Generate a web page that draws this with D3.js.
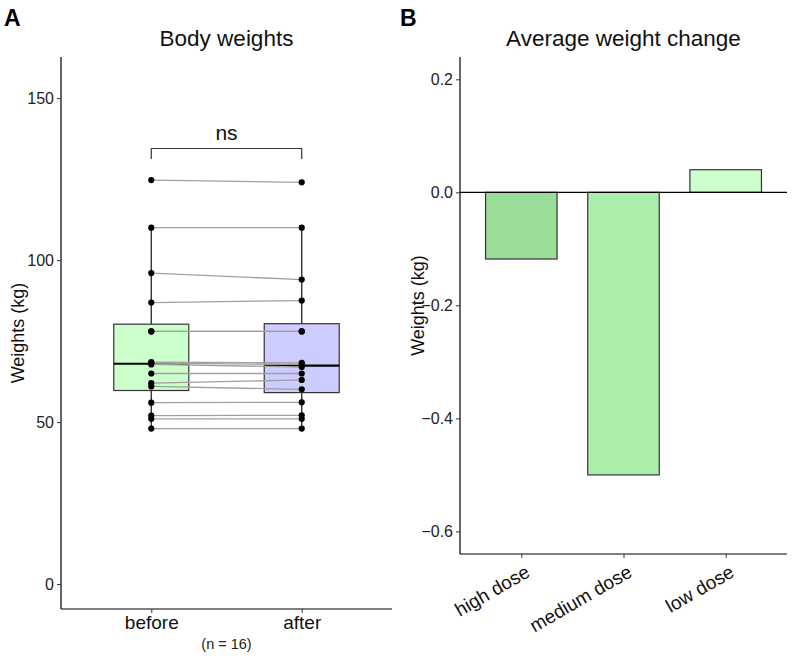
<!DOCTYPE html>
<html>
<head>
<meta charset="utf-8">
<script src="https://cdn.jsdelivr.net/npm/d3@7"></script>
<style>
  body { margin: 0; background: #fff; }
  text { font-family: "Liberation Sans", Arial, sans-serif; }
</style>
</head>
<body>
<div id="chart"></div>
<script>
// ---- data ----
const groups = ["before", "after"];
const beforeW = [124.7, 110, 96, 86.9, 78, 78, 68.5, 68.2, 67.8, 65, 62, 61, 56, 52, 51, 48];
const afterW  = [124.0, 110, 94, 87.5, 78, 78, 68.3, 67.8, 67.0, 65, 63, 60.1, 56.1, 52.1, 51, 48];
const boxFill = ["#ccffcc", "#ccccff"];
const weightTicks = [0, 50, 100, 150];

const doses = ["high dose", "medium dose", "low dose"];
const doseChange = [-0.118, -0.5, 0.04];
const doseFill = ["#99dd99", "#aaeeaa", "#ccffcc"];
const changeTicks = [-0.6, -0.4, -0.2, 0.0, 0.2];

const W = 795, H = 658;
const FONT = "Liberation Sans, Arial, sans-serif";
const svg = d3.select("#chart").append("svg")
  .attr("width", W).attr("height", H);

// ====== Panel A ======
const A = { left: 61, right: 392, top: 57, bottom: 609 };

const yA = d3.scaleLinear().domain([-7.7, 162.7]).range([A.bottom, A.top]);
const xA = d3.scalePoint().domain(groups).range([A.left, A.right]).padding(0.6);
const boxW = 75;

const gA = svg.append("g");

// boxes
[beforeW, afterW].forEach((vals, i) => {
  const s = vals.slice().sort(d3.ascending);
  const q1 = d3.quantile(s, 0.25), med = d3.quantile(s, 0.5), q3 = d3.quantile(s, 0.75);
  const iqr = q3 - q1;
  const lo = d3.min(s.filter(v => v >= q1 - 1.5 * iqr));
  const hi = d3.max(s.filter(v => v <= q3 + 1.5 * iqr));
  const cx = xA(groups[i]);

  gA.append("line")
    .attr("x1", cx).attr("x2", cx).attr("y1", yA(hi)).attr("y2", yA(q3))
    .attr("stroke", "#333").attr("stroke-width", 1.4);
  gA.append("line")
    .attr("x1", cx).attr("x2", cx).attr("y1", yA(q1)).attr("y2", yA(lo))
    .attr("stroke", "#333").attr("stroke-width", 1.4);
  gA.append("rect")
    .attr("x", cx - boxW / 2).attr("width", boxW)
    .attr("y", yA(q3)).attr("height", yA(q1) - yA(q3))
    .attr("fill", boxFill[i]).attr("stroke", "#333").attr("stroke-width", 1.2);
  gA.append("line")
    .attr("x1", cx - boxW / 2).attr("x2", cx + boxW / 2)
    .attr("y1", yA(med)).attr("y2", yA(med))
    .attr("stroke", "#000").attr("stroke-width", 2.2);
});

// paired lines
gA.selectAll("line.pair")
  .data(beforeW.map((b, i) => [b, afterW[i]]))
  .join("line")
  .attr("class", "pair")
  .attr("x1", xA("before")).attr("x2", xA("after"))
  .attr("y1", d => yA(d[0])).attr("y2", d => yA(d[1]))
  .attr("stroke", "#a0a0a0").attr("stroke-width", 1.3);

// points
[beforeW, afterW].forEach((vals, i) => {
  gA.selectAll(null)
    .data(vals)
    .join("circle")
    .attr("cx", xA(groups[i])).attr("cy", d => yA(d))
    .attr("r", 3.1).attr("fill", "#000");
});

// ns bracket
const by = 148.5, tickDown = 10.5;
gA.append("path")
  .attr("d", `M${xA("before")},${by + tickDown}V${by}H${xA("after")}V${by + tickDown}`)
  .attr("fill", "none").attr("stroke", "#333").attr("stroke-width", 1.2);
gA.append("text")
  .attr("x", (xA("before") + xA("after")) / 2).attr("y", 140)
  .attr("text-anchor", "middle").style("font-size", "21px").attr("fill", "#111")
  .text("ns");

// axes A
const axA = gA.append("g").attr("transform", `translate(${A.left},0)`)
  .call(d3.axisLeft(yA).tickValues(weightTicks).tickSize(4).tickPadding(3));
const axAx = gA.append("g").attr("transform", `translate(0,${A.bottom})`)
  .call(d3.axisBottom(xA).tickSize(4).tickPadding(3));
[axA, axAx].forEach(ax => {
  ax.select(".domain").attr("stroke", "#000").attr("stroke-width", 1.2);
  ax.selectAll(".tick line").attr("stroke", "#333");
});
axA.select(".domain").attr("d", `M0,${A.top}V${A.bottom}`);
axAx.select(".domain").attr("d", `M${A.left},0H${A.right}`);
axA.selectAll(".tick text").style("font-size", "16px").attr("fill", "#222")
  .style("font-family", FONT);
axAx.selectAll(".tick text").style("font-size", "19px").attr("fill", "#111")
  .style("font-family", FONT);

gA.append("text")
  .attr("x", (xA("before") + xA("after")) / 2).attr("y", 649)
  .attr("text-anchor", "middle").style("font-size", "14.5px").attr("fill", "#222")
  .text("(n = 16)");

gA.append("text")
  .attr("transform", `translate(24,${(A.top + A.bottom) / 2}) rotate(-90)`)
  .attr("text-anchor", "middle").style("font-size", "18px").attr("fill", "#111")
  .text("Weights (kg)");

gA.append("text")
  .attr("x", (A.left + A.right) / 2).attr("y", 46)
  .attr("text-anchor", "middle").style("font-size", "22.5px").attr("fill", "#111")
  .text("Body weights");

svg.append("text")
  .attr("x", 4).attr("y", 26)
  .style("font-size", "23px").style("font-weight", "bold").attr("fill", "#000")
  .text("A");

// ====== Panel B ======
const B = { left: 460, right: 787, top: 57, bottom: 554 };

const yB = d3.scaleLinear().domain([-0.64, 0.2395]).range([B.bottom, B.top]);
// ggplot-like discrete expansion: centers at 0.6, 1.6, 2.6 units of 3.2
const unitB = (B.right - B.left) / 3.2;
const xcB = d3.scalePoint().domain(doses).range([B.left, B.right]).padding(0.6);
const barW = 0.7 * unitB;

const gB = svg.append("g");

gB.selectAll("rect.bar")
  .data(doses.map((d, i) => ({ dose: d, v: doseChange[i], fill: doseFill[i] })))
  .join("rect")
  .attr("class", "bar")
  .attr("x", d => xcB(d.dose) - barW / 2).attr("width", barW)
  .attr("y", d => yB(Math.max(0, d.v)))
  .attr("height", d => Math.abs(yB(d.v) - yB(0)))
  .attr("fill", d => d.fill).attr("stroke", "#333").attr("stroke-width", 1.2);

gB.append("line")
  .attr("x1", B.left).attr("x2", B.right).attr("y1", yB(0)).attr("y2", yB(0))
  .attr("stroke", "#000").attr("stroke-width", 1.2);

const axB = gB.append("g").attr("transform", `translate(${B.left},0)`)
  .call(d3.axisLeft(yB).tickValues(changeTicks).tickSize(4).tickPadding(3)
    .tickFormat(d => d3.format(".1f")(d).replace("-", "\u2212")));
const axBx = gB.append("g").attr("transform", `translate(0,${B.bottom})`)
  .call(d3.axisBottom(xcB).tickSize(4).tickPadding(3));
[axB, axBx].forEach(ax => {
  ax.select(".domain").attr("stroke", "#000").attr("stroke-width", 1.2);
  ax.selectAll(".tick line").attr("stroke", "#333");
});
axB.select(".domain").attr("d", `M0,${B.top}V${B.bottom}`);
axBx.select(".domain").attr("d", `M${B.left},0H${B.right}`);
axB.selectAll(".tick text").style("font-size", "16px").attr("fill", "#222")
  .style("font-family", FONT);
axBx.selectAll(".tick text")
  .style("font-size", "19px").attr("fill", "#111")
  .style("font-family", FONT)
  .attr("text-anchor", "end")
  .attr("dy", "0.35em")
  .attr("transform", "translate(6,16) rotate(-30)")
  .attr("y", 0);

gB.append("text")
  .attr("transform", `translate(424,${(B.top + B.bottom) / 2}) rotate(-90)`)
  .attr("text-anchor", "middle").style("font-size", "18px").attr("fill", "#111")
  .text("Weights (kg)");

gB.append("text")
  .attr("x", (B.left + B.right) / 2).attr("y", 46)
  .attr("text-anchor", "middle").style("font-size", "22.5px").attr("fill", "#111")
  .text("Average weight change");

svg.append("text")
  .attr("x", 400).attr("y", 26)
  .style("font-size", "23px").style("font-weight", "bold").attr("fill", "#000")
  .text("B");
</script>
</body>
</html>
